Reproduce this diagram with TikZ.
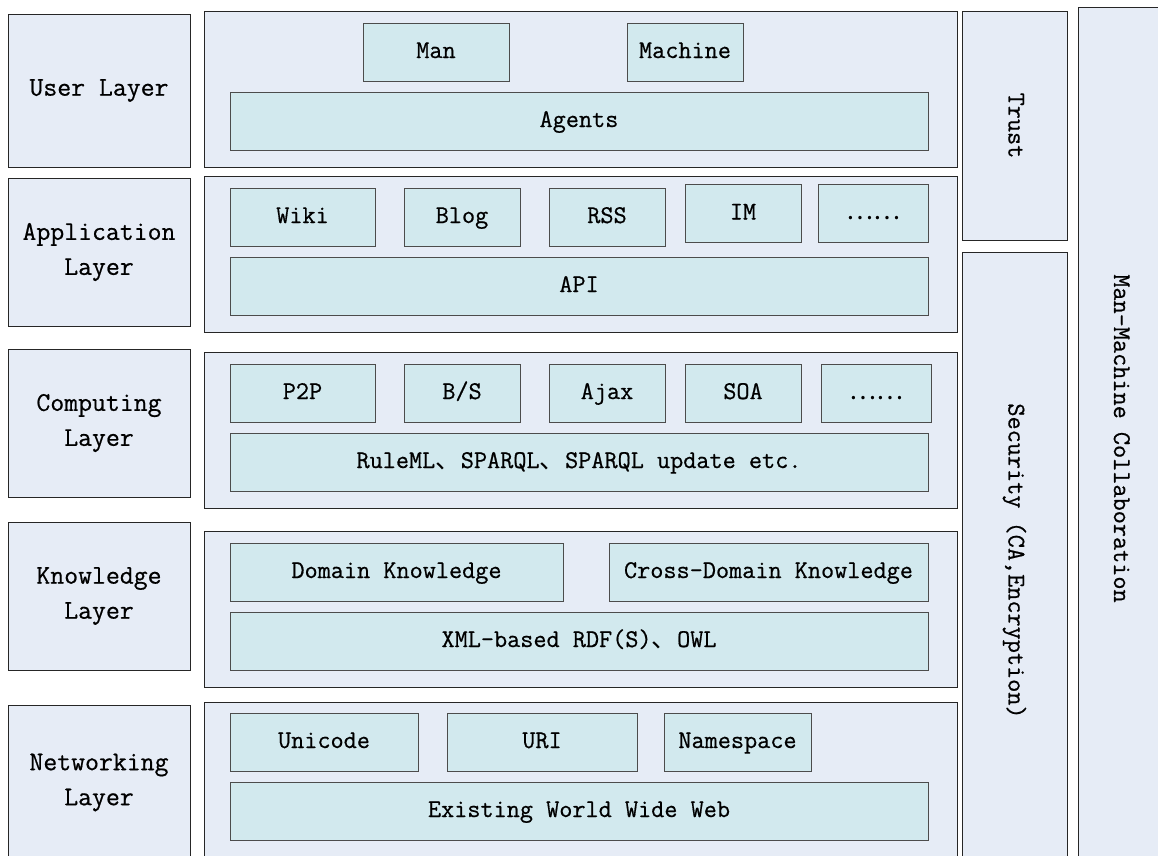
\documentclass[tikz,border=0pt]{standalone}
\usepackage{fontspec}
\newfontfamily\cjk{Noto Sans CJK SC}
\newfontfamily\boxfont{Latin Modern Mono}[FakeBold=0.6]
\usepackage{tikz}
\usetikzlibrary{positioning}

\definecolor{layerfill}{RGB}{230,236,246}
\definecolor{itemfill}{RGB}{210,233,238}

\tikzset{
  layerbox/.style={draw=black!85, fill=layerfill, line width=1pt, inner sep=0pt,
    align=center, font=\fontsize{27}{35}\selectfont\boxfont},
  panelbox/.style={draw=black!85, fill=layerfill, line width=1pt, inner sep=0pt},
  sidebox/.style={panelbox, rotate=-90, text height=18pt, text depth=6pt,
    font=\fontsize{25.5}{30}\selectfont\boxfont},
  itembox/.style={draw=black!70, fill=itemfill, line width=1pt, inner sep=0pt,
    minimum height=58, text height=18pt, text depth=6pt,
    font=\fontsize{25.5}{30}\selectfont\boxfont},
}

\begin{document}
\begin{tikzpicture}[x=1pt, y=-1pt]
  \useasboundingbox (0,0) rectangle (1158,855);
  \clip (0,0) rectangle (1158,855);

  % Layer labels on the left
  \node[layerbox, minimum width=182, minimum height=153] (user) at (99,90.5) {User Layer};
  \node[layerbox, minimum width=182, minimum height=148] (app) at (99,252) {Application\\Layer};
  \node[layerbox, minimum width=182, minimum height=148] (comp) at (99,423) {Computing\\Layer};
  \node[layerbox, minimum width=182, minimum height=148] (know) at (99,596) {Knowledge\\Layer};
  \node[layerbox, minimum width=182, minimum height=155] (net) at (99,782.5) {Networking\\Layer};

  % Panels of each layer
  \foreach \y/\name in {89/userp, 254/appp, 430/compp, 609/knowp, 780/netp} {
    \node[panelbox, minimum width=753, minimum height=156] (\name) at (580.5,\y) {};
  }

  % User layer
  \node[itembox, minimum width=146] (man) at (436,52) {Man};
  \node[itembox, minimum width=116] (machine) at (685,52) {Machine};
  \node[itembox, minimum width=698] (agents) at (579,121) {Agents};

  % Application layer
  \node[itembox, minimum width=145] (wiki) at (302.5,217) {Wiki};
  \node[itembox, minimum width=116] (blog) at (462,217) {Blog};
  \node[itembox, minimum width=116] (rss) at (607,217) {RSS};
  \node[itembox, minimum width=116] (im) at (743,213.5) {IM};
  \node[itembox, minimum width=110] (appmore) at (873,213.5) {{\cjk ……}};
  \node[itembox, minimum width=698] (api) at (579,286) {API};

  % Computing layer
  \node[itembox, minimum width=145] (ptp) at (302.5,393) {P2P};
  \node[itembox, minimum width=116] (bs) at (462,393) {B/S};
  \node[itembox, minimum width=116] (ajax) at (607,393) {Ajax};
  \node[itembox, minimum width=116] (soa) at (743,393) {SOA};
  \node[itembox, minimum width=110] (compmore) at (876,393) {{\cjk ……}};
  \node[itembox, minimum width=698] (rules) at (579,462)
    {RuleML{\cjk 、}SPARQL{\cjk 、}SPARQL update etc.};

  % Knowledge layer
  \node[itembox, minimum width=333] (domain) at (396.5,572) {Domain Knowledge};
  \node[itembox, minimum width=319] (cross) at (768.5,572) {Cross-Domain Knowledge};
  \node[itembox, minimum width=698] (rdf) at (579,641) {XML-based RDF(S){\cjk 、}OWL};

  % Networking layer
  \node[itembox, minimum width=188] (unicode) at (324,742) {Unicode};
  \node[itembox, minimum width=190] (uri) at (542,742) {URI};
  \node[itembox, minimum width=147] (ns) at (737.5,742) {Namespace};
  \node[itembox, minimum width=698] (www) at (579,811) {Existing World Wide Web};

  % Columns on the right
  \node[sidebox, minimum width=229, minimum height=105] (trust) at (1014.5,125.5) {Trust};
  \node[sidebox, minimum width=618, minimum height=105] (security) at (1014.5,561)
    {Security (CA,Encryption)};
  \node[sidebox, minimum width=863, minimum height=84] (collab) at (1120,438.5)
    {Man-Machine Collaboration};
\end{tikzpicture}
\end{document}
